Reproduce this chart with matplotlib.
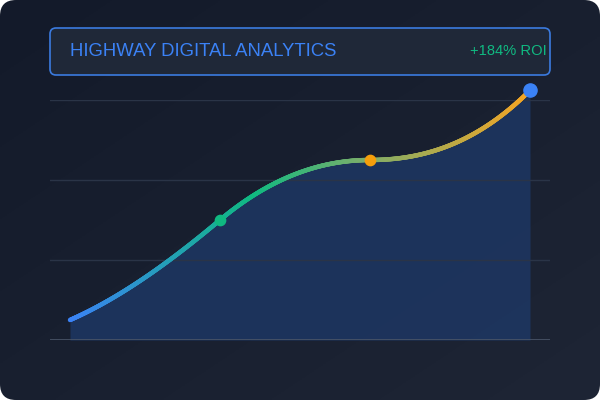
import numpy as np
import matplotlib.pyplot as plt
from matplotlib.patches import FancyBboxPatch
from matplotlib.collections import LineCollection
from matplotlib.colors import LinearSegmentedColormap

title = "HIGHWAY DIGITAL ANALYTICS"
roi_label = "+184% ROI"
x_pts = np.array([0, 150, 300, 460])
y_pts = np.array([25, 150, 225, 312])
# tangent at each point (data units), shapes the smooth path
tangents = np.array([0.55, 1.05, 0.0, 1.25])
grid_vals = [100, 200, 300]


def hermite(x, y, m, n=300):
    xs, ys = [], []
    for i in range(len(x) - 1):
        h = x[i + 1] - x[i]
        t = np.linspace(0, 1, n)
        h00 = 2 * t**3 - 3 * t**2 + 1
        h10 = t**3 - 2 * t**2 + t
        h01 = -2 * t**3 + 3 * t**2
        h11 = t**3 - t**2
        xs.append(x[i] + t * h)
        ys.append(h00 * y[i] + h10 * h * m[i] + h01 * y[i + 1] + h11 * h * m[i + 1])
    return np.concatenate(xs), np.concatenate(ys)


fig = plt.figure(figsize=(6, 4), dpi=100, facecolor='white')

# background card
bg = fig.add_axes([0, 0, 1, 1])
bg.set_xlim(0, 600)
bg.set_ylim(400, 0)
bg.axis('off')
grad = np.linspace(0, 1, 256)
gx, gy = np.meshgrid(grad, grad)
bgcmap = LinearSegmentedColormap.from_list('bg', ['#131a2a', '#1e2535'])
im = bg.imshow((gx + gy) / 2, cmap=bgcmap, extent=[0, 600, 400, 0], aspect='auto')
card = FancyBboxPatch((0, 0), 600, 400, boxstyle='round,pad=0,rounding_size=16',
                      facecolor='none', edgecolor='none')
bg.add_patch(card)
im.set_clip_path(card)

box = FancyBboxPatch((50, 28), 500, 47, boxstyle='round,pad=0,rounding_size=6',
                     facecolor='#1f2838', edgecolor='#3b7be0', linewidth=1.2)
bg.add_patch(box)
bg.text(70, 51, title, color='#3b82f6', fontsize=13.3, va='center', ha='left',
        family='Liberation Sans', zorder=5)
bg.text(547, 51, roi_label, color='#10b981', fontsize=10.6, va='center', ha='right',
        family='Liberation Sans', zorder=5, clip_on=False)

# chart
ax = fig.add_axes([50 / 600, 60 / 400, 500 / 600, 240 / 400])
ax.set_xlim(-20, 480)
ax.set_ylim(0, 300)
ax.axis('off')
for g in grid_vals:
    ax.axhline(g, color='#2a3447', linewidth=1)
ax.axhline(0, color='#4a5568', linewidth=1.2)

xs, ys = hermite(x_pts, y_pts, tangents)
ax.fill_between(xs, 0, ys, color='#1e3a6a', alpha=0.75, linewidth=0, clip_on=False)

cmap = LinearSegmentedColormap.from_list('line', [
    (0.0, '#3b82f6'), (0.4, '#10b981'), (0.65, '#7fae6a'), (1.0, '#f5a524')])
pts = np.column_stack([xs, ys]).reshape(-1, 1, 2)
segs = np.concatenate([pts[:-1], pts[1:]], axis=1)
lc = LineCollection(segs, cmap=cmap, linewidth=3.2, capstyle='round', clip_on=False)
lc.set_array((xs[:-1] - xs.min()) / (xs.max() - xs.min()))
ax.add_collection(lc)

ax.scatter(x_pts[1], y_pts[1], s=55, color='#10b981', zorder=5, clip_on=False)
ax.scatter(x_pts[2], y_pts[2], s=55, color='#f59e0b', zorder=5, clip_on=False)
ax.scatter(x_pts[3], y_pts[3], s=90, color='#3b82f6', zorder=5, clip_on=False)

fig.savefig('out.png', dpi=100)
